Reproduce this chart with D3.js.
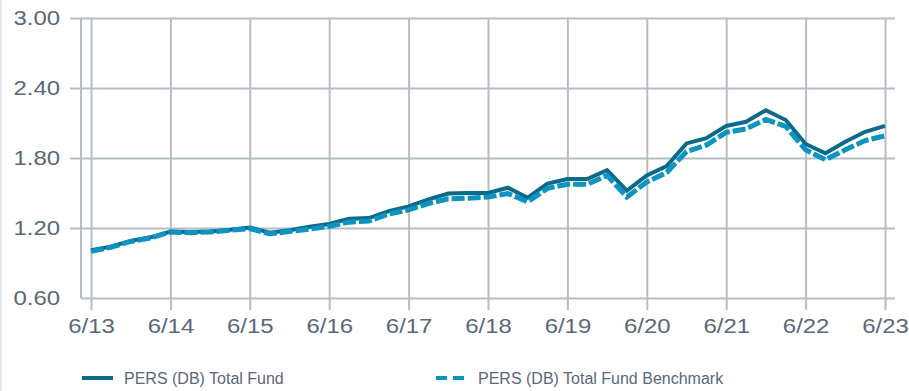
<!DOCTYPE html>
<html>
<head>
<meta charset="utf-8">
<script src="https://cdn.jsdelivr.net/npm/d3@7/dist/d3.min.js"></script>
<style>
  html, body { margin: 0; padding: 0; background: #fff; }
  svg { display: block; }
  text { font-family: "Liberation Sans", Arial, sans-serif; }
</style>
</head>
<body>
<svg id="chart" width="909" height="391"></svg>
<script>
// Quarter-end dates, June 2013 through June 2023
const quarters = [
  "6/13","9/13","12/13","3/14","6/14","9/14","12/14","3/15","6/15","9/15","12/15",
  "3/16","6/16","9/16","12/16","3/17","6/17","9/17","12/17","3/18","6/18",
  "9/18","12/18","3/19","6/19","9/19","12/19","3/20","6/20","9/20","12/20",
  "3/21","6/21","9/21","12/21","3/22","6/22","9/22","12/22","3/23","6/23"
];

// Growth of $1 — PERS (DB) Total Fund
const totalFund = [
  1.01, 1.04, 1.09, 1.12, 1.17, 1.165, 1.17, 1.185, 1.205, 1.16, 1.18,
  1.21, 1.235, 1.28, 1.285, 1.345, 1.385, 1.445, 1.495, 1.50, 1.50,
  1.545, 1.46, 1.58, 1.62, 1.62, 1.695, 1.52, 1.65, 1.73, 1.925,
  1.97, 2.075, 2.11, 2.21, 2.125, 1.92, 1.84, 1.94, 2.025, 2.075
];

// Growth of $1 — PERS (DB) Total Fund Benchmark
const benchmark = [
  1.00, 1.035, 1.085, 1.115, 1.165, 1.16, 1.165, 1.18, 1.195, 1.15, 1.17,
  1.19, 1.215, 1.25, 1.26, 1.32, 1.355, 1.41, 1.45, 1.455, 1.465,
  1.495, 1.425, 1.54, 1.575, 1.575, 1.65, 1.465, 1.595, 1.675, 1.855,
  1.91, 2.02, 2.05, 2.13, 2.07, 1.87, 1.785, 1.87, 1.95, 1.99
];

const yTicks = [0.60, 1.20, 1.80, 2.40, 3.00];
const xTickLabels = ["6/13","6/14","6/15","6/16","6/17","6/18","6/19","6/20","6/21","6/22","6/23"];

const seriesNames = ["PERS (DB) Total Fund", "PERS (DB) Total Fund Benchmark"];

const fundColor = "#0b6a8a";
const benchColor = "#0b93c1";
const gridColor = "#b5bdc7";
const labelColor = "#5a6878";
const axisFont = "21px";
const axisStretch = 1.14;   // axis labels are set slightly wide

const svg = d3.select("#chart");

// frame edge on the left
svg.append("line")
  .attr("x1", 1).attr("x2", 1).attr("y1", 0).attr("y2", 391)
  .attr("stroke", "#e3e6ea").attr("stroke-width", 2);

const x = d3.scaleLinear().domain([0, quarters.length - 1]).range([91, 885]);
const y = d3.scaleLinear().domain([0.6, 3.0]).range([298, 18]);

const axisX = 81, gridLeft = 70, gridRight = 895;

// horizontal gridlines + y labels
const yPad = 10;
const yAxis = d3.axisLeft(y)
  .tickValues(yTicks)
  .tickFormat(d3.format(".2f"))
  .tickSize(-(gridRight - gridLeft))
  .tickPadding(yPad);

const gy = svg.append("g")
  .attr("transform", `translate(${gridLeft},0)`)
  .call(yAxis);
gy.select(".domain").remove();
gy.selectAll(".tick line")
  .attr("stroke", gridColor).attr("stroke-width", 2)
  .attr("x1", d => d === 0.6 ? axisX - gridLeft : 0);
gy.selectAll(".tick text")
  .attr("fill", labelColor)
  .attr("x", -yPad / axisStretch)
  .attr("transform", `scale(${axisStretch},1)`)
  .style("font-size", axisFont);

// vertical gridlines at each June + x labels
const yearIdx = xTickLabels.map(l => quarters.indexOf(l));
const xAxis = d3.axisBottom(x)
  .tickValues(yearIdx)
  .tickFormat(i => quarters[i])
  .tickSize(-(298 - 18))
  .tickPadding(20);

const gx = svg.append("g")
  .attr("transform", "translate(0,298)")
  .call(xAxis);
gx.select(".domain").remove();
gx.selectAll(".tick line")
  .attr("stroke", gridColor).attr("stroke-width", 2)
  .attr("y2", 12).attr("y1", -(298 - 18));
gx.selectAll(".tick text")
  .attr("fill", labelColor)
  .attr("transform", `scale(${axisStretch},1)`)
  .style("font-size", axisFont);

// left axis line
svg.append("line")
  .attr("x1", axisX).attr("x2", axisX)
  .attr("y1", y(3.0)).attr("y2", y(0.6))
  .attr("stroke", gridColor).attr("stroke-width", 2);

// series lines
const line = d3.line()
  .x((d, i) => x(i))
  .y(d => y(d));

svg.append("path")
  .datum(totalFund)
  .attr("fill", "none")
  .attr("stroke", fundColor)
  .attr("stroke-width", 4)
  .attr("d", line);

svg.append("path")
  .datum(benchmark)
  .attr("fill", "none")
  .attr("stroke", benchColor)
  .attr("stroke-width", 5)
  .attr("stroke-dasharray", "13,3")
  .attr("d", line);

// legend
const legend = svg.append("g").attr("class", "legend");
const legendItems = [
  { name: seriesNames[0], color: fundColor, dash: null, x0: 82 },
  { name: seriesNames[1], color: benchColor, dash: "11,6", x0: 436 }
];
legendItems.forEach(item => {
  legend.append("line")
    .attr("x1", item.x0).attr("x2", item.x0 + 31)
    .attr("y1", 378).attr("y2", 378)
    .attr("stroke", item.color).attr("stroke-width", 4)
    .attr("stroke-dasharray", item.dash);
  legend.append("text")
    .attr("x", item.x0 + 42).attr("y", 384)
    .attr("fill", labelColor)
    .style("font-size", "16px")
    .text(item.name);
});
</script>
</body>
</html>
